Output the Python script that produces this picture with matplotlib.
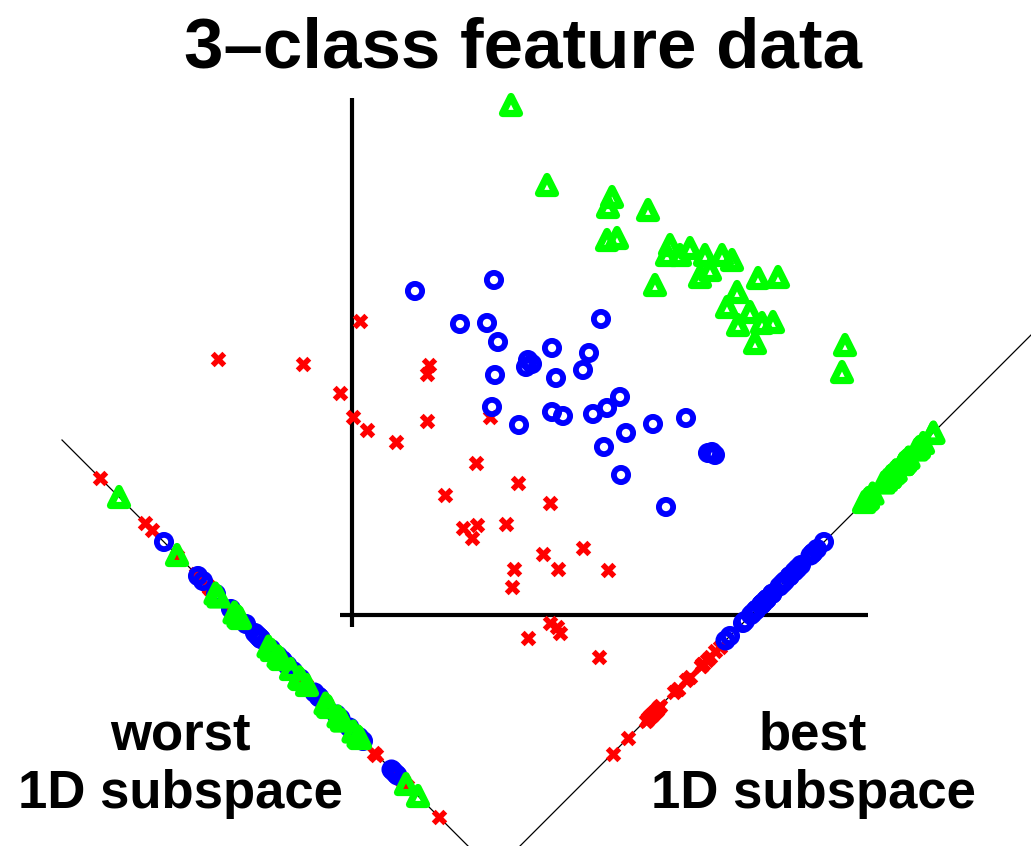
import numpy as np
import matplotlib.pyplot as plt

# feature values (origin = where the two axes cross)
red_x = [-134, -49, 8, -12, 1, 15, 44, 77, 75, 75, 138, 124, 166, 93, 198,
         111, 125, 120, 154, 191, 231, 162, 206, 256, 160, 198, 205, 208, 176, 247]
red_y = [256, 251, 294, 222, 198, 185, 173, 250, 241, 194, 198, 152, 132, 120, 112,
         87, 90, 77, 91, 61, 67, 46, 46, 45, 28, -8, -12, -18, -23, -42]

blue_x = [63, 142, 249, 108, 135, 146, 176, 174, 180, 200, 237, 231, 204, 143, 140,
          167, 200, 211, 241, 255, 268, 274, 301, 334, 252, 356, 360, 363, 269, 314]
blue_y = [324, 335, 296, 291, 292, 273, 255, 248, 251, 267, 262, 245, 237, 240, 208,
          190, 203, 199, 201, 207, 218, 182, 191, 197, 168, 162, 163, 160, 140, 108]

green_x = [159, 195, 260, 256, 296, 255, 265, 318, 315, 328, 338, 353, 370, 380,
           348, 358, 303, 406, 426, 385, 375, 398, 410, 386, 421, 403, 493, 490]
green_y = [510, 430, 418, 408, 405, 375, 377, 370, 360, 360, 367, 360, 360, 355,
           338, 345, 330, 337, 338, 323, 308, 303, 292, 290, 293, 272, 270, 243]

# the two 1D subspaces: a point on the line and its direction
best_pt, best_dir = np.array([168.0, -231.0]), np.array([1.0, 1.0]) / np.sqrt(2)
worst_pt, worst_dir = np.array([-290.0, 175.0]), np.array([1.0, -1.0]) / np.sqrt(2)


def project(xs, ys, a, d):
    p = np.column_stack([xs, ys]) - a
    t = p @ d
    q = a + np.outer(t, d)
    return q[:, 0], q[:, 1]


RED, BLUE, GREEN = '#ff0000', '#0000ff', '#00ff00'

fig = plt.figure(figsize=(10.31, 8.46), dpi=100)
ax = fig.add_axes([0, 0, 1, 1])
ax.set_xlim(-352, 679)
ax.set_ylim(-231, 615)
ax.axis('off')

# feature axes
ax.plot([0, 0], [-12, 517], color='black', lw=3, solid_capstyle='butt')
ax.plot([-12, 516], [0, 0], color='black', lw=3, solid_capstyle='butt')

# subspace lines
for a, d in [(best_pt, best_dir), (worst_pt, worst_dir)]:
    ends = np.array([a, a + 900 * d])
    ax.plot(ends[:, 0], ends[:, 1], color='black', lw=0.9, zorder=1)


def draw(xs, ys):
    ax.scatter(xs[0], ys[0], marker='X', s=125, color=RED, linewidths=0, zorder=3)
    ax.scatter(xs[1], ys[1], marker='o', s=105, facecolors='none', edgecolors=BLUE,
               linewidths=4.2, zorder=3)
    ax.scatter(xs[2], ys[2], marker='^', s=150, facecolors='none', edgecolors=GREEN,
               linewidths=5.2, zorder=3)


draw((red_x, blue_x, green_x), (red_y, blue_y, green_y))

for a, d in [(best_pt, best_dir), (worst_pt, worst_dir)]:
    rx, ry = project(red_x, red_y, a, d)
    bx, by = project(blue_x, blue_y, a, d)
    gx, gy = project(green_x, green_y, a, d)
    draw((rx, bx, gx), (ry, by, gy))

font = 'Liberation Sans'
W, H = 1031, 846
fig.text(523 / W, 1 - 67 / H, '3\u2013class feature data', ha='center', va='baseline',
         fontsize=51, fontweight='bold', family=font)
fig.text(180 / W, 1 - 750 / H, 'worst', ha='center', va='baseline',
         fontsize=38, fontweight='bold', family=font)
fig.text(180 / W, 1 - 808 / H, '1D subspace', ha='center', va='baseline',
         fontsize=38, fontweight='bold', family=font)
fig.text(813 / W, 1 - 750 / H, 'best', ha='center', va='baseline',
         fontsize=38, fontweight='bold', family=font)
fig.text(813 / W, 1 - 808 / H, '1D subspace', ha='center', va='baseline',
         fontsize=38, fontweight='bold', family=font)

fig.savefig('out.png', dpi=100)
